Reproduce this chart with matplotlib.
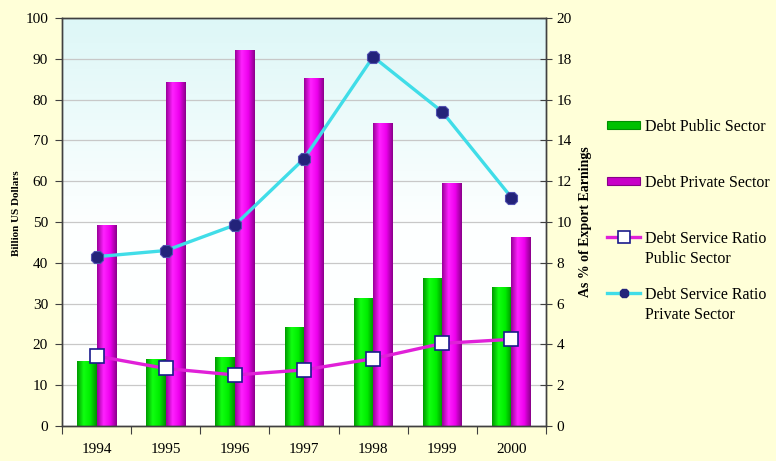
import numpy as np
import matplotlib
matplotlib.use("Agg")
import matplotlib.pyplot as plt
from matplotlib.colors import LinearSegmentedColormap
from matplotlib.lines import Line2D
from matplotlib.patches import Rectangle

# --- data ------------------------------------------------------------
years = ["1994", "1995", "1996", "1997", "1998", "1999", "2000"]
debt_public = [15.8, 16.3, 16.7, 24.1, 31.2, 36.1, 34.0]
debt_private = [49.1, 84.3, 92.0, 85.1, 74.2, 59.5, 46.3]
dsr_public = [3.43, 2.82, 2.5, 2.75, 3.3, 4.05, 4.25]
dsr_private = [8.3, 8.6, 9.85, 13.1, 18.1, 15.4, 11.2]

plt.rcParams["font.family"] = ["Liberation Serif", "DejaVu Serif"]

W, H = 776, 461
fig = plt.figure(figsize=(W / 100, H / 100), dpi=100)
fig.patch.set_facecolor("#FFFFD8")
ax = fig.add_axes([62 / W, 35 / H, 484 / W, 408 / H])
ax2 = ax.twinx()

x = np.arange(len(years))
w = 0.28

# plot area background gradient (light cyan -> white)
bg = LinearSegmentedColormap.from_list("bg", ["#FFFFFF", "#FDFFFF", "#DDF7F7"])
ax.imshow(np.linspace(0, 1, 256).reshape(-1, 1), extent=[0, 1, 0, 1],
          transform=ax.transAxes, aspect="auto", cmap=bg, origin="lower", zorder=0)

# cylinder-like shading across each bar
green = LinearSegmentedColormap.from_list("g", ["#009A00", "#10FF10", "#00EE00", "#009000"])
purple = LinearSegmentedColormap.from_list("p", ["#9A009A", "#FF22FF", "#EE00EE", "#8A008A"])
shade = np.linspace(0, 1, 64).reshape(1, -1)

for xi, v in zip(x, debt_public):
    ax.imshow(shade, extent=[xi - w, xi, 0, v], aspect="auto", cmap=green, zorder=2)
for xi, v in zip(x, debt_private):
    ax.imshow(shade, extent=[xi, xi + w, 0, v], aspect="auto", cmap=purple, zorder=2)

ax.set_xlim(-0.5, len(years) - 0.5)
ax.set_ylim(0, 100)
ax.set_yticks(np.arange(0, 101, 10))
ax.grid(axis="y", color="#C8C8C8", linewidth=0.9, zorder=1)
ax.set_axisbelow(True)

ax.set_xticks(np.arange(-0.5, len(years), 1.0))
ax.set_xticklabels([])
ax.set_xticks(x, minor=True)
ax.set_xticklabels(years, minor=True)
ax.tick_params(axis="x", which="major", direction="out", length=6, color="#404040")
ax.tick_params(axis="x", which="minor", length=0, pad=12, labelsize=11)
ax.tick_params(axis="y", direction="out", length=5, color="#404040", labelsize=11, pad=5)

ax2.plot(x, dsr_public, color="#E020D8", lw=2.4, marker="s", ms=10,
         mfc="white", mec="#1A1A8C", mew=1.2, zorder=5)
ax2.plot(x, dsr_private, color="#40DDE8", lw=2.4, marker="8", ms=10,
         mfc="#23237A", mec="#5050B0", mew=0.8, zorder=5)
ax2.set_ylim(0, 20)
ax2.set_yticks(np.arange(0, 21, 2))
ax2.tick_params(axis="y", direction="inout", length=9, color="#404040", labelsize=11, pad=3)

for a in (ax, ax2):
    for s in a.spines.values():
        s.set_color("#404040")
        s.set_linewidth(1.0)

fig.text(17 / W, 1 - 213 / H, "Billion US Dollars", rotation=90, fontsize=8,
         fontweight="bold", ha="center", va="center")
fig.text(586 / W, 1 - 222 / H, "As % of Export Earnings", rotation=90, fontsize=10,
         fontweight="bold", ha="center", va="center")

# --- legend, laid out like the original (entries spaced by first line) ---
def fy(py):
    return 1 - py / H

fig.add_artist(Rectangle((607 / W, fy(129)), 33 / W, 8 / H, transform=fig.transFigure,
                         facecolor="#00C000", edgecolor="#008F00", lw=0.8))
fig.add_artist(Rectangle((607 / W, fy(185)), 33 / W, 8 / H, transform=fig.transFigure,
                         facecolor="#C800C8", edgecolor="#880088", lw=0.8))
fig.add_artist(Line2D([607 / W, 640 / W], [fy(237), fy(237)], transform=fig.transFigure,
                      color="#E020D8", lw=2.4))
fig.add_artist(Line2D([623.5 / W], [fy(237)], transform=fig.transFigure, marker="s", ms=9,
                      mfc="white", mec="#1A1A8C", mew=1.2))
fig.add_artist(Line2D([607 / W, 640 / W], [fy(293), fy(293)], transform=fig.transFigure,
                      color="#40DDE8", lw=2.4))
fig.add_artist(Line2D([623.5 / W], [fy(293)], transform=fig.transFigure, marker="8", ms=6,
                      mfc="#23237A", mec="#23237A"))

legend_rows = [("Debt Public Sector", 125), ("Debt Private Sector", 181),
               ("Debt Service Ratio", 237), ("Public Sector", 257),
               ("Debt Service Ratio", 293), ("Private Sector", 313)]
for txt, py in legend_rows:
    fig.text(645 / W, fy(py), txt, fontsize=11.5, ha="left", va="center_baseline")

fig.savefig("out.png", dpi=100, facecolor=fig.get_facecolor())
